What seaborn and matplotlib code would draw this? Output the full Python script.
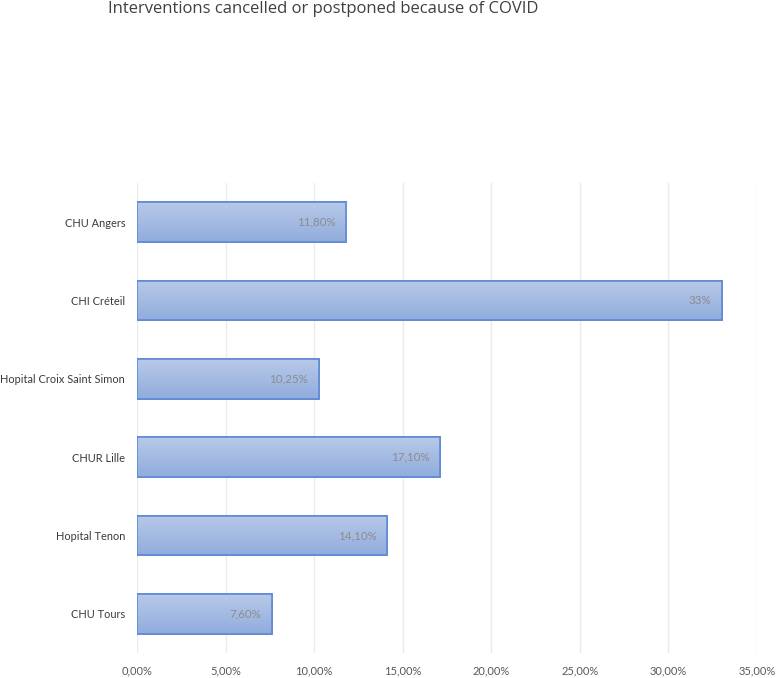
import matplotlib
matplotlib.use("Agg")
import matplotlib.pyplot as plt
import matplotlib.ticker as mticker
import seaborn as sns
import numpy as np
import pandas as pd

hospitals = ["CHU Angers", "CHI Créteil", "Hopital Croix Saint Simon",
             "CHUR Lille", "Hopital Tenon", "CHU Tours"]
values = [11.80, 33.0, 10.25, 17.10, 14.10, 7.60]
labels = ["11,80%", "33%", "10,25%", "17,10%", "14,10%", "7,60%"]

df = pd.DataFrame({"hopital": hospitals, "pct": values})

sns.set_style("white")
plt.rcParams["font.family"] = ["Lato", "DejaVu Sans"]

fig = plt.figure(figsize=(7.77, 6.78), dpi=100)
ax = fig.add_axes([0.1763, 0.0369, 0.798, 0.6932])

sns.barplot(data=df, x="pct", y="hopital", orient="h", ax=ax,
            color="#a3b9e2", edgecolor="#5b87d4", linewidth=1.2,
            width=0.51, saturation=1)

# gradient fill like the office chart
grad = np.linspace(0, 1, 64).reshape(-1, 1)
cmap = matplotlib.colors.LinearSegmentedColormap.from_list("g", ["#b7c9e8", "#91acdd"])
for p in ax.patches:
    x0, y0 = p.get_x(), p.get_y()
    w, h = p.get_width(), p.get_height()
    im = ax.imshow(grad, cmap=cmap, aspect="auto", extent=[x0, x0 + w, y0 + h, y0],
                   zorder=p.get_zorder() + 0.1, interpolation="bicubic")
    im.set_clip_path(p)
    edge = plt.Rectangle((x0, y0), w, h, fill=False, edgecolor="#5f8ad6",
                         linewidth=1.2, zorder=p.get_zorder() + 0.2)
    ax.add_patch(edge)

for i, (v, lab) in enumerate(zip(values, labels)):
    ax.annotate(lab, (v, i), xytext=(-7.5, 0), textcoords="offset points",
                ha="right", va="center", fontsize=8.3, color="#8c8c8c", zorder=10)

ax.set_xlim(0, 35)
ax.set_ylim(5.5, -0.5)
ax.xaxis.set_major_locator(mticker.MultipleLocator(5))
ax.xaxis.set_major_formatter(mticker.FuncFormatter(lambda x, _: f"{x:.2f}%".replace(".", ",")))
ax.grid(axis="x", color="#ebebeb", linewidth=1)
ax.set_axisbelow(True)
for s in ax.spines.values():
    s.set_visible(False)
ax.set_xlabel("")
ax.set_ylabel("")
ax.tick_params(axis="x", labelsize=8, labelcolor="#595959", length=0, pad=9)
ax.tick_params(axis="y", labelsize=7.9, labelcolor="#3a3a3a", length=0, pad=8.5)

fig.text(0.139, 0.987, "Interventions cancelled or postponed because of COVID",
         fontsize=12, color="#404040", ha="left", va="center", family=["Open Sans", "DejaVu Sans"])

fig.savefig("out.png", dpi=100)
